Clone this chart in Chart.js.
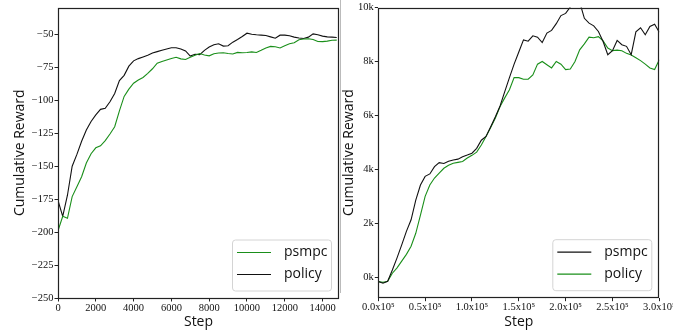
<!DOCTYPE html>
<html>
<head>
<meta charset="utf-8">
<script src="https://cdn.jsdelivr.net/npm/chart.js@4.4.1/dist/chart.umd.min.js"></script>
<style>
  html, body { margin: 0; padding: 0; background: #fff; }
  body { width: 673px; height: 331px; position: relative; overflow: hidden; }
  #left { position: absolute; left: 0; top: 0; }
  #right { position: absolute; left: 340px; top: 0; }
  #sep { position: absolute; left: 340px; top: 0; width: 1px; height: 293px; background: #bbb; }
</style>
</head>
<body>
<canvas id="left" width="340" height="331"></canvas>
<div id="sep"></div>
<canvas id="right" width="360" height="331"></canvas>
<script>
// left panel: steps 0..14750
var leftSteps = [0, 250, 500, 750, 1000, 1250, 1500, 1750, 2000, 2250, 2500, 2750, 3000, 3250, 3500, 3750,
    4000, 4250, 4500, 4750, 5000, 5250, 5500, 5750, 6000, 6250, 6500, 6750, 7000, 7250, 7500, 7750,
    8000, 8250, 8500, 8750, 9000, 9250, 9500, 9750, 10000, 10250, 10500, 10750, 11000, 11250, 11500, 11750,
    12000, 12250, 12500, 12750, 13000, 13250, 13500, 13750, 14000, 14250, 14500, 14750];
var leftPsmpc = [-199, -188, -189.5, -173, -165.5, -158, -147.5, -140.5, -136, -134.5,
    -130.5, -125.5, -120, -108, -97, -91.5, -87, -84.5, -82.6, -79.5,
    -76, -71.8, -70.5, -69.3, -68.2, -67.3, -68.5, -69, -67.3,
    -65.7, -64.4, -65.5, -66.2, -64.6, -64, -63.9, -64.4, -64.8, -63.6,
    -63.8, -63.6, -63.2, -63.7, -62, -60.2, -59, -59.3, -60.2, -58.5,
    -57, -56.3, -54, -53.4, -53.2, -53.8, -55.3, -55.4, -55, -54.4, -54.3];
var leftPolicy = [-176, -188, -172, -150, -141, -131, -122.5, -116, -111, -106.8,
    -106, -101, -94.7, -85, -81, -74, -70, -68.3, -67, -65.7,
    -64, -63, -62, -61, -60, -60, -61, -62.5, -66.4,
    -65, -65.3, -62, -59.5, -57.8, -57, -58.8, -58.5, -55.8, -53.8,
    -51.5, -49, -49.8, -50.2, -50.5, -50.8, -51.8, -52.8, -50.5, -50.5,
    -51, -52, -52.6, -53, -52, -49.5, -50.2, -51.2, -51.8, -52, -52.3];
var leftXTicks = [0, 2000, 4000, 6000, 8000, 10000, 12000, 14000];
var leftYTicks = [-250, -225, -200, -175, -150, -125, -100, -75, -50];

// right panel: steps 0..300000
var rightSteps = [0, 5000, 10000, 15000, 20000, 25000, 30000, 35000, 40000, 45000,
    50000, 55000, 60000, 65000, 70000, 75000, 80000, 85000, 90000, 95000,
    100000, 105000, 110000, 115000, 120000, 125000, 130000, 135000, 140000, 145000,
    150000, 155000, 160000, 165000, 170000, 175000, 180000, 185000, 190000, 195000,
    200000, 205000, 210000, 215000, 220000, 225000, 230000, 235000, 240000, 245000,
    250000, 255000, 260000, 265000, 270000, 275000, 280000, 285000, 290000, 295000, 300000];
var rightPsmpc = [-160, -220, -150, 270, 720, 1200, 1700, 2130, 2860, 3420,
    3740, 3830, 4100, 4250, 4220, 4300, 4350, 4380, 4470, 4530,
    4600, 4780, 5080, 5220, 5580, 5950, 6350, 6880, 7400, 7900,
    8350, 8800, 8750, 8950, 8900, 8700, 9050, 9150, 9400, 9700,
    9780, 10020, 10300, 10200, 9600, 9420, 9320, 9110, 8740, 8250,
    8400, 8780, 8620, 8560, 8250, 9100, 9250, 8990, 9300, 9380, 9080];
var rightPolicy = [-160, -190, -150, 150, 350, 600, 850, 1150, 1630, 2300,
    3000, 3420, 3680, 3860, 4040, 4150, 4230, 4260, 4290, 4420,
    4520, 4640, 4900, 5220, 5550, 5900, 6330, 6650, 6950, 7400,
    7400, 7340, 7340, 7500, 7900, 8000, 7880, 7760, 8000, 7900,
    7700, 7720, 8000, 8430, 8650, 8900, 8880, 8920, 8760, 8500,
    8400, 8420, 8400, 8300, 8240, 8140, 8030, 7900, 7760, 7700, 8060];
var rightXTicks = [0, 50000, 100000, 150000, 200000, 250000, 300000];
var rightYTicks = [0, 2000, 4000, 6000, 8000, 10000];

var GREEN = '#1a8f1a';
var BLACK = '#111111';
var tickFont = { family: 'Liberation Serif', size: 10.5 };
var titleFont = { family: 'Open Sans', size: 14 };

function pts(xs, ys) {
    return xs.map(function (x, i) { return { x: x, y: ys[i] }; });
}

// matplotlib-like box around the plot area
var framePlugin = {
    id: 'frame',
    afterDraw: function (chart) {
        var a = chart.chartArea, ctx = chart.ctx;
        ctx.save();
        ctx.strokeStyle = '#222';
        ctx.lineWidth = 1.2;
        ctx.strokeRect(Math.round(a.left) + 0.5, Math.round(a.top) + 0.5,
            Math.round(a.right - a.left) - 1, Math.round(a.bottom - a.top) - 1);
        ctx.restore();
    }
};

// legend box in the lower right corner of the plot area
var boxLegend = {
    id: 'boxLegend',
    afterDraw: function (chart, args, opts) {
        var a = chart.chartArea, ctx = chart.ctx;
        var w = 99, h = 51;
        var x0 = a.right - 8 - w, y0 = a.bottom - 7.5 - h;
        ctx.save();
        ctx.beginPath();
        ctx.roundRect(x0 + 0.5, y0 + 0.5, w, h, 3);
        ctx.fillStyle = 'rgba(255,255,255,0.85)';
        ctx.fill();
        ctx.strokeStyle = '#d4d4d4';
        ctx.lineWidth = 1;
        ctx.stroke();
        ctx.font = '14px "Open Sans"';
        ctx.textBaseline = 'middle';
        chart.data.datasets.forEach(function (ds, i) {
            var y = y0 + 13 + 22 * i;
            ctx.beginPath();
            ctx.moveTo(x0 + 5, y);
            ctx.lineTo(x0 + 39, y);
            ctx.strokeStyle = ds.borderColor;
            ctx.lineWidth = 1.2;
            ctx.stroke();
            ctx.fillStyle = '#111';
            ctx.fillText(ds.label, x0 + 52, y);
        });
        ctx.restore();
    }
};

function makeChart(id, o) {
    var ctx = document.getElementById(id).getContext('2d');
    return new Chart(ctx, {
        type: 'line',
        data: { datasets: o.datasets },
        options: {
            responsive: false,
            animation: false,
            layout: { padding: { left: 0, top: 7.5, right: o.padRight, bottom: 0 } },
            elements: { point: { radius: 0 }, line: { borderWidth: 1.1, tension: 0 } },
            plugins: { legend: { display: false }, tooltip: { enabled: false } },
            scales: {
                x: {
                    type: 'linear', min: 0, max: o.xMax,
                    afterBuildTicks: function (s) { s.ticks = o.xTicks.map(function (v) { return { value: v }; }); },
                    afterFit: function (s) { s.height = o.xHeight; s.paddingLeft = 0; s.paddingRight = 0; },
                    grid: { display: true, drawOnChartArea: false, drawTicks: true, tickLength: 3.5, color: '#222' },
                    border: { display: false },
                    ticks: { font: tickFont, color: '#111', padding: 0, maxRotation: 0, autoSkip: false, callback: o.xFmt },
                    title: { display: true, text: 'Step', font: titleFont, color: '#111', padding: { top: 0, bottom: 1 } }
                },
                y: {
                    type: 'linear', min: o.yMin, max: o.yMax,
                    afterBuildTicks: function (s) { s.ticks = o.yTicks.map(function (v) { return { value: v }; }); },
                    afterFit: function (s) { s.width = o.yWidth; s.paddingTop = 0; s.paddingBottom = 0; },
                    grid: { display: true, drawOnChartArea: false, drawTicks: true, tickLength: 3.5, color: '#222' },
                    border: { display: false },
                    ticks: { font: tickFont, color: '#111', padding: 1, autoSkip: false, callback: o.yFmt },
                    title: { display: true, text: 'Cumulative Reward', font: titleFont, color: '#111', padding: { top: o.yTitlePad, bottom: 0 } }
                }
            }
        },
        plugins: [framePlugin, boxLegend]
    });
}

makeChart('left', {
    datasets: [
        { label: 'psmpc', data: pts(leftSteps, leftPsmpc), borderColor: GREEN },
        { label: 'policy', data: pts(leftSteps, leftPolicy), borderColor: BLACK }
    ],
    xMax: 14870, xTicks: leftXTicks, xFmt: function (v) { return String(v); },
    yMin: -250, yMax: -29.5, yTicks: leftYTicks,
    yFmt: function (v) { return v < 0 ? '\u2212' + Math.abs(v) : String(v); },
    yWidth: 58, xHeight: 33, padRight: 1, yTitlePad: 12
});

makeChart('right', {
    datasets: [
        { label: 'psmpc', data: pts(rightSteps, rightPsmpc), borderColor: BLACK },
        { label: 'policy', data: pts(rightSteps, rightPolicy), borderColor: GREEN }
    ],
    xMax: 300000, xTicks: rightXTicks,
    xFmt: function (v) { return (v / 100000).toFixed(1) + 'x10\u2075'; },
    yMin: -757, yMax: 10000, yTicks: rightYTicks,
    yFmt: function (v) { return (v / 1000) + 'k'; },
    yWidth: 38.3, xHeight: 33.3, padRight: 40.7, yTitlePad: 1
});
</script>
</body>
</html>
